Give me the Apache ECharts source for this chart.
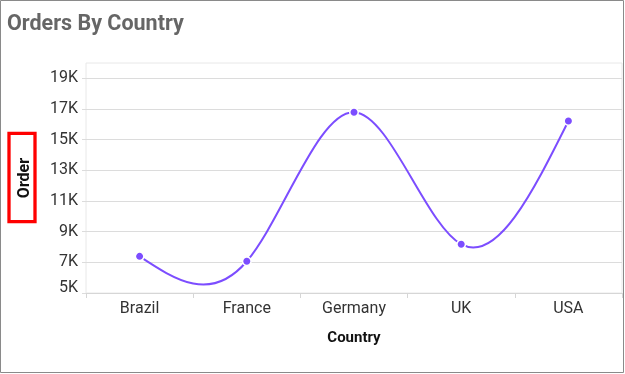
<!DOCTYPE html>
<html>
<head>
<meta charset="utf-8">
<script src="https://cdn.jsdelivr.net/npm/echarts@6/dist/echarts.min.js"></script>
<style>
  html, body { margin: 0; padding: 0; background: #fff; }
  #chart { width: 625px; height: 374px; }
</style>
</head>
<body>
<div id="chart"></div>
<script>
// ---- data ----
const categories = ['Brazil', 'France', 'Germany', 'UK', 'USA'];
const orders = [7390, 7070, 16790, 8180, 16220];
const yMin = 5000;
const yMax = 20000;
const yLabelValues = [5000, 7000, 9000, 11000, 13000, 15000, 17000, 19000];
const yGridValues = [5000, 7000, 9000, 11000, 13000, 15000, 17000, 19000];
const titleText = 'Orders By Country';
const xTitle = 'Country';
const yTitle = 'Order';

// ---- natural cubic spline (second derivatives), like the source chart's spline ----
function naturalSecondDerivs(ys) {
  const n = ys.length;
  const M = new Array(n).fill(0);
  if (n < 3) return M;
  const m = n - 2;
  const a = [], b = [], c = [], d = [];
  for (let k = 0; k < m; k++) {
    const i = k + 1;
    a.push(1); b.push(4); c.push(1);
    d.push(6 * (ys[i + 1] - 2 * ys[i] + ys[i - 1]));
  }
  for (let k = 1; k < m; k++) {
    const w = a[k] / b[k - 1];
    b[k] -= w * c[k - 1];
    d[k] -= w * d[k - 1];
  }
  const x = new Array(m);
  x[m - 1] = d[m - 1] / b[m - 1];
  for (let k = m - 2; k >= 0; k--) x[k] = (d[k] - c[k] * x[k + 1]) / b[k];
  for (let k = 0; k < m; k++) M[k + 1] = x[k];
  return M;
}
const M2 = naturalSecondDerivs(orders);

const lineColor = '#7c4dff';
const fmtK = v => (v / 1000) + 'K';

const chart = echarts.init(document.getElementById('chart'), null, { renderer: 'canvas' });
chart.setOption({
  animation: false,
  backgroundColor: '#fff',
  title: {
    text: titleText,
    left: 7,
    top: 14,
    padding: 0,
    textStyle: { fontFamily: 'Roboto', fontSize: 21.5, fontWeight: 'bold', color: '#666666' }
  },
  grid: {
    left: 86, right: 3, top: 63, bottom: 81,
    containLabel: false,
    outerBoundsMode: 'none',
    show: true,
    borderColor: '#e8e8e8',
    borderWidth: 1
  },
  xAxis: {
    type: 'category',
    data: categories,
    boundaryGap: true,
    name: xTitle,
    nameLocation: 'middle',
    nameGap: 38,
    nameTextStyle: { fontFamily: 'Roboto', fontSize: 15, fontWeight: 'bold', color: '#111' },
    axisLine: { show: true, lineStyle: { color: '#d6d6d6', width: 1 } },
    axisTick: { show: true, length: 5, interval: 0, lineStyle: { color: '#d6d6d6' } },
    axisLabel: { fontFamily: 'Roboto', fontSize: 16, color: '#333', margin: 8, interval: 0 },
    splitLine: { show: false }
  },
  yAxis: {
    type: 'value',
    min: yMin,
    max: yMax,
    name: yTitle,
    nameLocation: 'middle',
    nameGap: 53,
    nameTextStyle: { fontFamily: 'Roboto', fontSize: 16, fontWeight: 'bold', color: '#111' },
    axisLine: { show: false },
    axisTick: { show: true, length: 4, customValues: yGridValues, lineStyle: { color: '#dcdcdc' } },
    axisLabel: {
      customValues: yLabelValues,
      margin: 8,
      formatter: v => (v === yMin ? '{edge|' : '{n|') + fmtK(v) + '}',
      rich: {
        n: { fontFamily: 'Roboto', fontSize: 16, color: '#333' },
        edge: { fontFamily: 'Roboto', fontSize: 16, color: '#333', padding: [0, 0, 11, 0] }
      }
    },
    splitLine: { show: true, lineStyle: { color: '#dcdcdc', width: 1 } }
  },
  graphic: [
    {
      type: 'rect',
      silent: true,
      shape: { x: 0.5, y: 0.5, width: 623, height: 372 },
      style: { fill: null, stroke: '#8a8a8a', lineWidth: 1 },
      z: 100
    },
    {
      type: 'rect',
      silent: true,
      shape: { x: 9, y: 133.3, width: 26, height: 88.3 },
      style: { fill: null, stroke: '#ff0000', lineWidth: 3.3 },
      z: 100
    }
  ],
  series: [
    {
      type: 'custom',
      name: 'Orders',
      data: categories.map((c, i) => [c, orders[i]]),
      clip: true,
      z: 3,
      renderItem: function (params, api) {
        const i = params.dataIndex;
        if (i >= orders.length - 1) return null;
        const y0 = orders[i], y1 = orders[i + 1];
        const dd = y1 - y0;
        const s0 = dd - (2 * M2[i] + M2[i + 1]) / 6;
        const s1 = dd + (M2[i] + 2 * M2[i + 1]) / 6;
        const p0 = api.coord([i, y0]);
        const p1 = api.coord([i + 1, y1]);
        const c0y = api.coord([i, y0 + s0 / 3])[1];
        const c1y = api.coord([i + 1, y1 - s1 / 3])[1];
        const dx = p1[0] - p0[0];
        return {
          type: 'bezierCurve',
          shape: {
            x1: p0[0], y1: p0[1], x2: p1[0], y2: p1[1],
            cpx1: p0[0] + dx / 3, cpy1: c0y,
            cpx2: p1[0] - dx / 3, cpy2: c1y
          },
          style: { stroke: lineColor, lineWidth: 2, fill: null }
        };
      }
    },
    {
      type: 'scatter',
      name: 'Orders points',
      data: categories.map((c, i) => [c, orders[i]]),
      symbol: 'circle',
      symbolSize: 8.5,
      z: 4,
      itemStyle: { color: lineColor, borderColor: '#ffffff', borderWidth: 1.5, opacity: 1 }
    }
  ]
});
</script>
</body>
</html>
